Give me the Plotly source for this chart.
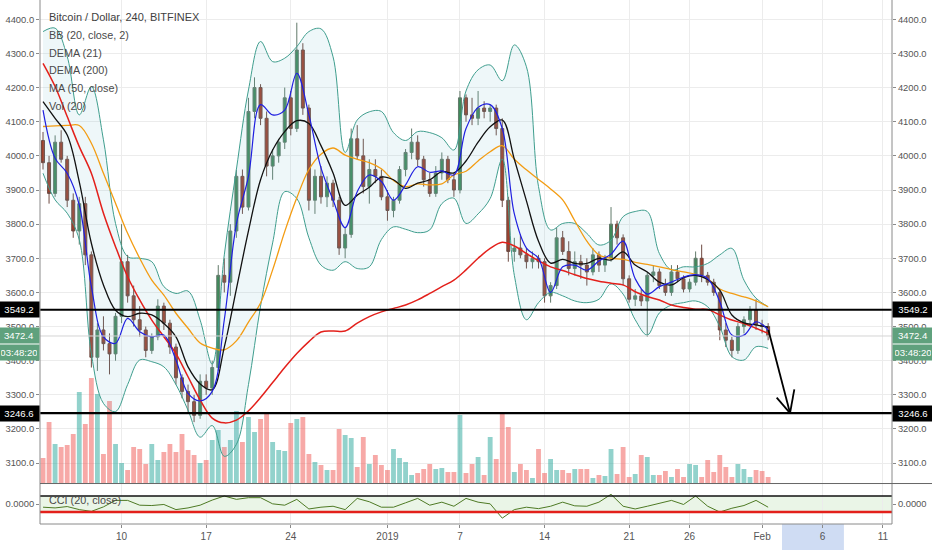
import plotly.graph_objects as go
import pandas as pd

# ---------------- data ----------------
candle_time = pd.date_range("2018-12-03 12:00", periods=121, freq="12h")
open_ = [4045, 3980, 3890, 4040, 3990, 3870, 3780, 3860, 3710, 3410,
         3490, 3450, 3420, 3530, 3690, 3590, 3520, 3490, 3430, 3470,
         3560, 3510, 3440, 3350, 3310, 3280, 3240, 3340, 3320, 3380,
         3650, 3630, 3780, 3940, 3850, 4130, 4200, 4110, 3970, 4000,
         4040, 4170, 4080, 4310, 4140, 3870, 3940, 3880, 3920, 3870,
         3730, 3770, 4050, 4000, 3910, 3960, 3940, 3880, 3840, 3870,
         3960, 4010, 4040, 3990, 3930, 3890, 3950, 3990, 3930, 3900,
         4170, 4120, 4110, 4140, 4130, 4140, 4080, 3870, 3720, 3730,
         3710, 3690, 3700, 3690, 3590, 3620, 3760, 3720, 3670, 3690,
         3680, 3660, 3710, 3680, 3700, 3800, 3760, 3640, 3580, 3590,
         3575, 3650, 3660, 3620, 3600, 3660, 3640, 3610, 3630, 3700,
         3650, 3630, 3600, 3490, 3460, 3430, 3500, 3520, 3550, 3505,
         3500]
high = [4070, 4000, 4060, 4075, 4000, 3890, 3880, 3880, 3720, 3510,
        3530, 3480, 3540, 3800, 3710, 3620, 3560, 3500, 3480, 3580,
        3570, 3520, 3450, 3360, 3330, 3300, 3360, 3360, 3400, 3680,
        3700, 3800, 3960, 3960, 4170, 4230, 4210, 4130, 4020, 4050,
        4200, 4190, 4390, 4330, 4150, 3960, 3970, 3940, 3930, 3880,
        3790, 4080, 4090, 4050, 3990, 3990, 3960, 3900, 3880, 3970,
        4020, 4080, 4060, 4000, 3950, 3970, 4010, 4000, 3950, 4190,
        4180, 4170, 4190, 4160, 4150, 4150, 4110, 3880, 3760, 3770,
        3730, 3720, 3710, 3700, 3630, 3790, 3780, 3750, 3720, 3710,
        3700, 3730, 3720, 3710, 3850, 3810, 3770, 3650, 3610, 3610,
        3660, 3680, 3670, 3640, 3680, 3680, 3650, 3640, 3720, 3740,
        3660, 3640, 3610, 3510, 3470, 3510, 3530, 3560, 3580, 3520,
        3510]
low = [3960, 3860, 3880, 3980, 3850, 3760, 3740, 3680, 3380, 3370,
       3430, 3360, 3400, 3510, 3570, 3500, 3470, 3410, 3420, 3460,
       3490, 3420, 3330, 3290, 3250, 3220, 3230, 3300, 3300, 3370,
       3600, 3590, 3760, 3830, 3840, 4110, 4090, 3940, 3930, 3980,
       4020, 4060, 4070, 4120, 3840, 3830, 3860, 3850, 3850, 3710,
       3700, 3760, 3990, 3890, 3860, 3920, 3870, 3810, 3820, 3860,
       3940, 3990, 3970, 3910, 3880, 3880, 3930, 3920, 3880, 3890,
       4100, 4090, 4090, 4110, 4100, 4060, 3850, 3690, 3690, 3700,
       3670, 3670, 3670, 3570, 3570, 3610, 3710, 3650, 3650, 3640,
       3620, 3650, 3660, 3660, 3690, 3740, 3620, 3570, 3560, 3560,
       3470, 3630, 3610, 3590, 3590, 3630, 3600, 3600, 3620, 3630,
       3620, 3590, 3460, 3440, 3410, 3420, 3480, 3500, 3490, 3480,
       3460]
close = [3980, 3890, 4040, 3990, 3870, 3780, 3860, 3710, 3410, 3490,
         3450, 3420, 3530, 3690, 3590, 3520, 3490, 3430, 3470, 3560,
         3510, 3440, 3350, 3310, 3280, 3240, 3340, 3320, 3380, 3650,
         3630, 3780, 3940, 3850, 4130, 4200, 4110, 3970, 4000, 4040,
         4170, 4080, 4310, 4140, 3870, 3940, 3880, 3920, 3870, 3730,
         3770, 4050, 4000, 3910, 3960, 3940, 3880, 3840, 3870, 3960,
         4010, 4040, 3990, 3930, 3890, 3950, 3990, 3930, 3900, 4170,
         4120, 4110, 4140, 4130, 4140, 4080, 3870, 3720, 3730, 3710,
         3690, 3700, 3690, 3590, 3620, 3760, 3720, 3670, 3690, 3680,
         3660, 3710, 3680, 3700, 3800, 3760, 3640, 3580, 3590, 3575,
         3650, 3660, 3620, 3600, 3660, 3640, 3610, 3630, 3700, 3650,
         3630, 3600, 3490, 3460, 3430, 3500, 3520, 3550, 3505, 3500,
         3472.4]
volume = [25, 61, 39, 36, 38, 49, 91, 59, 105, 89,
          29, 82, 39, 20, 13, 36, 34, 19, 39, 23,
          31, 39, 31, 49, 33, 28, 20, 23, 43, 53,
          36, 43, 72, 41, 66, 51, 64, 69, 41, 33,
          32, 60, 64, 66, 29, 21, 18, 13, 13, 54,
          48, 45, 16, 46, 19, 28, 18, 13, 34, 25,
          21, 8, 10, 14, 19, 14, 15, 11, 11, 68,
          10, 19, 26, 8, 46, 24, 71, 56, 11, 19,
          13, 5, 34, 10, 24, 13, 13, 10, 14, 14,
          14, 5, 8, 7, 34, 9, 36, 6, 9, 28,
          26, 8, 8, 12, 6, 14, 6, 19, 18, 6,
          23, 11, 28, 16, 6, 19, 14, 6, 13, 12,
          6]

line_time = pd.date_range("2018-12-03 12:00", periods=61, freq="24h")
bb_upper = [4364, 4374, 4291, 4120, 4203, 4047, 3802, 3705, 3700, 3690,
            3617, 3597, 3604, 3519, 3390, 3710, 3960, 4193, 4335, 4276,
            4286, 4320, 4364, 4372, 4290, 4010, 4105, 4129, 4130, 4068,
            4045, 4071, 4068, 4053, 4017, 4190, 4252, 4266, 4220, 4325,
            4261, 3910, 3783, 3802, 3802, 3773, 3739, 3753, 3822, 3837,
            3837, 3714, 3666, 3675, 3675, 3685, 3710, 3729, 3636, 3583,
            3558]
bb_lower = [3949, 3871, 3832, 3754, 3420, 3275, 3251, 3330, 3402, 3397,
            3382, 3330, 3255, 3176, 3210, 3120, 3155, 3330, 3560, 3745,
            3895, 3875, 3760, 3680, 3665, 3690, 3670, 3675, 3755, 3792,
            3785, 3775, 3783, 3860, 3876, 3802, 3830, 3875, 3990, 3650,
            3520, 3570, 3600, 3590, 3575, 3570, 3580, 3625, 3595, 3520,
            3475, 3540, 3563, 3570, 3575, 3558, 3500, 3412, 3402, 3441,
            3436]
bb_basis = [4159, 4110, 4061, 3924, 3744, 3622, 3548, 3529, 3539, 3534,
            3509, 3470, 3382, 3332, 3315, 3440, 3610, 3780, 3930, 4017,
            4071, 4103, 4095, 4030, 3950, 3855, 3885, 3908, 3938, 3930,
            3905, 3920, 3930, 3954, 3950, 3985, 4040, 4085, 4105, 3990,
            3868, 3750, 3686, 3697, 3685, 3685, 3700, 3695, 3719, 3680,
            3660, 3630, 3622, 3643, 3650, 3638, 3607, 3534, 3511, 3505,
            3498]
dema21 = [4134, 3993, 3949, 3856, 3617, 3470, 3451, 3524, 3485, 3470,
          3475, 3402, 3304, 3282, 3310, 3520, 3800, 3940, 4150, 4120,
          4134, 4242, 4120, 3965, 3871, 3790, 3895, 3944, 3925, 3870,
          3915, 3968, 3952, 3956, 3944, 4080, 4142, 4150, 4080, 3830,
          3730, 3700, 3600, 3675, 3680, 3665, 3692, 3712, 3750, 3640,
          3595, 3617, 3630, 3645, 3652, 3641, 3573, 3475, 3475, 3514,
          3490]
dema200 = [4271, 4203, 4115, 4027, 3949, 3832, 3734, 3646, 3578, 3519,
           3470, 3421, 3353, 3285, 3232, 3218, 3226, 3253, 3292, 3336,
           3380, 3421, 3456, 3484, 3487, 3487, 3510, 3529, 3543, 3553,
           3563, 3578, 3597, 3617, 3636, 3666, 3700, 3729, 3747, 3736,
           3714, 3693, 3675, 3664, 3652, 3641, 3633, 3627, 3622, 3602,
           3588, 3578, 3563, 3556, 3551, 3550, 3534, 3519, 3509, 3495,
           3480]
ma50 = [4086, 4088, 4089, 4089, 4037, 3949, 3861, 3773, 3700, 3636,
        3592, 3539, 3495, 3452, 3437, 3432, 3458, 3513, 3569, 3666,
        3778, 3877, 3960, 4005, 4023, 4002, 3990, 3980, 3962, 3928,
        3910, 3918, 3915, 3918, 3944, 3955, 3985, 4012, 4030, 3990,
        3959, 3931, 3903, 3871, 3810, 3750, 3710, 3700, 3697, 3688,
        3682, 3675, 3667, 3660, 3653, 3640, 3610, 3597, 3587, 3575,
        3558]
cci = [-40, -49, -32, -70, -92, -36, 45, 45, -15, -19,
       -6, -70, -49, -15, 49, 100, 58, 79, 79, 2,
       -15, 58, -62, -40, -28, -70, 70, 28, -40, -40,
       15, 70, -15, 23, -28, 70, 23, 2, -177, -70,
       -40, -58, -28, 23, -23, -28, 23, 121, -28, -62,
       -28, 11, 45, -6, 100, -28, -100, -53, -19, 45,
       -40]

level_high = 3549.2
level_low = 3246.6
last_price = 3472.4
countdown = "03:48:20"
price_ticks = [3100, 3200, 3300, 3400, 3500, 3600, 3700, 3800, 3900, 4000, 4100, 4200, 4300, 4400]
x_tick_dates = ["2018-12-10", "2018-12-17", "2018-12-24", "2019-01-01", "2019-01-07",
                "2019-01-14", "2019-01-21", "2019-01-26", "2019-02-01", "2019-02-06", "2019-02-11"]
x_tick_text = ["10", "17", "24", "2019", "7", "14", "21", "26", "Feb", "6", "11"]
arrow_start = ("2019-02-01 12:30", 3490)
arrow_tip = ("2019-02-03 07:30", level_low)
arrow_barb_left = ("2019-02-02 05:00", 3292)
arrow_barb_right = ("2019-02-03 16:00", 3316)
highlight_range = ("2019-02-02 15:30", "2019-02-07 18:30")

# ---------------- styling ----------------
FONT = "Liberation Sans, Arial, sans-serif"
TXT = "#4a4a4a"
GRID = "#ececec"
AX = "#8a8a8a"
TEAL = "#3f9e8e"

W, H = 932, 550
ML, MR, MT, MB = 40, 40, 0, 26
PH = H - MT - MB  # 524
PW = W - ML - MR  # 852
price_dom = [41 / PH, 1.0]
cci_dom = [0.0, 40 / PH]

fig = go.Figure()

# Volume (base axis y)
vol_colors = ["rgba(38,166,154,0.5)" if c >= o else "rgba(239,83,80,0.5)" for o, c in zip(open_, close)]
fig.add_trace(go.Bar(x=candle_time, y=volume, marker=dict(color=vol_colors, line_width=0),
                     xaxis="x", yaxis="y", hoverinfo="skip"))

# Bollinger bands
fig.add_trace(go.Scatter(x=line_time, y=bb_lower, mode="lines", line=dict(color=TEAL, width=1, shape="spline"),
                         xaxis="x", yaxis="y2", hoverinfo="skip"))
fig.add_trace(go.Scatter(x=line_time, y=bb_upper, mode="lines", line=dict(color=TEAL, width=1, shape="spline"),
                         fill="tonexty", fillcolor="rgba(120,190,205,0.13)",
                         xaxis="x", yaxis="y2", hoverinfo="skip"))

# Candles
fig.add_trace(go.Candlestick(x=candle_time, open=open_, high=high, low=low, close=close,
                             increasing=dict(line=dict(color="#627a6a", width=1), fillcolor="#3f8a5a"),
                             decreasing=dict(line=dict(color="#6e4a42", width=1), fillcolor="#a0402c"),
                             whiskerwidth=0, xaxis="x", yaxis="y2", hoverinfo="skip"))

# Indicator lines
fig.add_trace(go.Scatter(x=line_time, y=ma50, mode="lines", line=dict(color="#f39c12", width=1.3, shape="spline"),
                         xaxis="x", yaxis="y2", hoverinfo="skip"))
fig.add_trace(go.Scatter(x=line_time, y=dema200, mode="lines", line=dict(color="#e3201b", width=1.5, shape="spline"),
                         xaxis="x", yaxis="y2", hoverinfo="skip"))
fig.add_trace(go.Scatter(x=line_time, y=bb_basis, mode="lines", line=dict(color="#111111", width=1.3, shape="spline"),
                         xaxis="x", yaxis="y2", hoverinfo="skip"))
fig.add_trace(go.Scatter(x=line_time, y=dema21, mode="lines", line=dict(color="#1f1fe0", width=1.2, shape="spline"),
                         xaxis="x", yaxis="y2", hoverinfo="skip"))

# Left duplicate price axis (invisible anchor trace)
fig.add_trace(go.Scatter(x=[line_time[0]], y=[close[0]], mode="markers", marker=dict(opacity=0),
                         xaxis="x", yaxis="y3", hoverinfo="skip"))

# CCI
fig.add_trace(go.Scatter(x=line_time, y=cci, mode="lines", line=dict(color="#4e7a24", width=1),
                         xaxis="x", yaxis="y4", hoverinfo="skip"))
fig.add_trace(go.Scatter(x=[line_time[0]], y=[0], mode="markers", marker=dict(opacity=0),
                         xaxis="x", yaxis="y5", hoverinfo="skip"))

price_range = [3041.8, 4456.5]
tickfont = dict(family=FONT, size=9.4, color="#555555")

fig.update_layout(
    width=W, height=H,
    margin=dict(l=ML, r=MR, t=MT, b=MB),
    paper_bgcolor="white", plot_bgcolor="white",
    showlegend=False, bargap=0.2,
    font=dict(family=FONT, color=TXT),
    xaxis=dict(type="date", range=["2018-12-03 06:00", "2019-02-11 18:00"],
               anchor="y4", tickvals=x_tick_dates, ticktext=x_tick_text,
               showgrid=True, gridcolor=GRID, ticks="outside", ticklen=3, tickcolor=AX,
               tickfont=dict(family=FONT, size=10, color="#555555"),
               rangeslider=dict(visible=False), showline=False, zeroline=False),
    yaxis=dict(domain=price_dom, range=[0, 483], visible=False, fixedrange=True),
    yaxis2=dict(domain=price_dom, overlaying="y", side="right", anchor="x", range=price_range,
                tickvals=price_ticks, tickformat=".1f", showgrid=True, gridcolor=GRID,
                ticks="outside", ticklen=3, tickcolor=AX, tickfont=tickfont, zeroline=False),
    yaxis3=dict(domain=price_dom, overlaying="y", side="left", anchor="x", range=price_range,
                tickvals=price_ticks, tickformat=".1f", showgrid=False,
                ticks="outside", ticklen=3, tickcolor=AX, tickfont=tickfont, zeroline=False),
    yaxis4=dict(domain=cci_dom, side="right", anchor="x", range=[-250, 250], tickvals=[0],
                ticktext=["0.0000"], showgrid=False, ticks="outside", ticklen=3, tickcolor=AX,
                tickfont=tickfont, zeroline=False),
    yaxis5=dict(domain=cci_dom, overlaying="y4", side="left", anchor="x", range=[-250, 250],
                tickvals=[0], ticktext=["0.0000"], showgrid=False, ticks="outside", ticklen=3,
                tickcolor=AX, tickfont=tickfont, zeroline=False),
)

shapes = []
# CCI band and levels
shapes.append(dict(type="rect", xref="paper", x0=0, x1=1, yref="y4", y0=-100, y1=100,
                   fillcolor="rgba(140,200,120,0.18)", line_width=0, layer="below"))
shapes.append(dict(type="line", xref="paper", x0=0, x1=1, yref="y4", y0=100, y1=100,
                   line=dict(color="#111111", width=1.6)))
shapes.append(dict(type="line", xref="paper", x0=0, x1=1, yref="y4", y0=-100, y1=-100,
                   line=dict(color="#e3201b", width=2.5)))
# Support / resistance levels
for lv in (level_high, level_low):
    shapes.append(dict(type="line", xref="paper", x0=0, x1=1, yref="y2", y0=lv, y1=lv,
                       line=dict(color="#000000", width=2.2)))
shapes.append(dict(type="line", xref="paper", x0=0, x1=1, yref="y2", y0=last_price, y1=last_price,
                   line=dict(color="#d4d4d4", width=1)))
# Hand-drawn arrow
for a, b in ((arrow_start, arrow_tip), (arrow_barb_left, arrow_tip), (arrow_barb_right, arrow_tip)):
    shapes.append(dict(type="line", xref="x", yref="y2", x0=a[0], y0=a[1], x1=b[0], y1=b[1],
                       line=dict(color="#000000", width=1.8)))
# Frame lines
shapes.append(dict(type="line", xref="paper", yref="paper", x0=0, x1=0, y0=0, y1=1, line=dict(color=AX, width=1)))
shapes.append(dict(type="line", xref="paper", yref="paper", x0=1, x1=1, y0=0, y1=1, line=dict(color=AX, width=1)))
shapes.append(dict(type="line", xref="paper", yref="paper", x0=0, x1=1, y0=0, y1=0, line=dict(color=AX, width=1)))
shapes.append(dict(type="line", xref="paper", yref="paper", x0=0, x1=1 + MR / PW, y0=price_dom[0] - 0.001,
                   y1=price_dom[0] - 0.001, line=dict(color="#666666", width=1)))
# Highlighted x-range below the axis
shapes.append(dict(type="rect", xref="x", yref="paper", x0=highlight_range[0], x1=highlight_range[1],
                   y0=-MB / PH, y1=0, fillcolor="#cfdcf3", line_width=0, layer="below"))
fig.update_layout(shapes=shapes)

ann = []
legend_lines = ["Bitcoin / Dollar, 240, BITFINEX", "BB (20, close, 2)", "DEMA (21)",
                "DEMA (200)", "MA (50, close)", "Vol (20)"]
for j, t in enumerate(legend_lines):
    ypx = 17 + j * 17.8
    ann.append(dict(text=t, xref="paper", yref="paper", x=7 / PW, y=1 - ypx / PH,
                    xanchor="left", yanchor="middle", showarrow=False,
                    font=dict(family=FONT, size=11 if j == 0 else 10.8, color="#3f3f3f" if j == 0 else TXT)))
ann.append(dict(text="CCI (20, close)", xref="paper", yref="paper", x=7 / PW, y=(524 - 500) / PH,
                xanchor="left", yanchor="middle", showarrow=False, font=dict(family=FONT, size=10.8, color=TXT)))


def box(text, yval, side, bg, yshift=0):
    return dict(text=text, xref="paper", yref="y2", x=0 if side == "left" else 1, y=yval,
                xanchor="right" if side == "left" else "left", yanchor="middle", yshift=yshift,
                showarrow=False, bgcolor=bg, borderpad=2, width=36,
                font=dict(family=FONT, size=9.6, color="white"))


for side in ("left", "right"):
    ann.append(box(f"{level_high:.1f}", level_high, side, "#000000"))
    ann.append(box(f"{level_low:.1f}", level_low, side, "#000000"))
    ann.append(box(f"{last_price:.1f}", last_price, side, "#5fa17d"))
    ann.append(box(countdown, last_price, side, "#5fa17d", yshift=-17))
fig.update_layout(annotations=ann)

fig.write_html("out.html", config={"displayModeBar": False},
               post_script="document.body.style.margin='0';")
